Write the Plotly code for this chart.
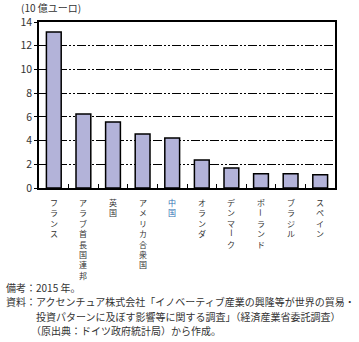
import plotly.graph_objects as go

# Value by country, 2015 (billion euro)
countries = ["フランス", "アラブ首長国連邦", "英国", "アメリカ合衆国", "中国",
             "オランダ", "デンマーク", "ポーランド", "ブラジル", "スペイン"]
values = [13.15, 6.24, 5.56, 4.55, 4.22, 2.36, 1.69, 1.21, 1.21, 1.12]
highlight = "中国"

y_ticks = [0, 2, 4, 6, 8, 10, 12, 14]
unit_label = "(10 億ユーロ)"
notes = [
    "備考：2015 年。",
    "資料：アクセンチュア株式会社「イノベーティブ産業の興隆等が世界の貿易・",
    "　　　投資パターンに及ぼす影響等に関する調査」（経済産業省委託調査）",
    "　　　（原出典：ドイツ政府統計局）から作成。",
]

FONT = "Noto Sans CJK JP"
TEXT = "#333333"
BAR = "#b3b3d9"
LABEL_SIZE = 8
ROW = LABEL_SIZE * 1.3  # plotly line height for <br> breaks

fig = go.Figure(go.Bar(
    x=list(range(len(countries))),
    y=values,
    width=0.5,
    marker=dict(color=BAR, line=dict(color="black", width=1.5)),
))

annotations = []


def vertical_label(i, name, color):
    """Stack a category name top-to-bottom; the long-vowel mark is turned upright."""
    segments, buf = [], ""
    for ch in name:
        if ch == "ー":
            if buf:
                segments.append((buf, False))
                buf = ""
            segments.append((ch, True))
        else:
            buf += ch
    if buf:
        segments.append((buf, False))
    row = 0
    for seg, turned in segments:
        annotations.append(dict(
            x=i, xref="x", y=0, yref="paper", yanchor="top",
            yshift=-(7 + ROW * row + (1 if turned else 0)),
            text="<br>".join(seg), showarrow=False,
            textangle=90 if turned else 0,
            font=dict(family=FONT, size=LABEL_SIZE, color=color),
        ))
        row += len(seg)


for i, name in enumerate(countries):
    vertical_label(i, name, "#2f6fb3" if name == highlight else TEXT)

annotations.append(dict(
    x=0, xref="paper", y=1, yref="paper",
    text=unit_label, showarrow=False, xanchor="left", yanchor="middle",
    xshift=-20, yshift=15,
    font=dict(family=FONT, size=10, color=TEXT),
))

for j, line in enumerate(notes):
    annotations.append(dict(
        x=0, xref="paper", y=0, yref="paper", xanchor="left", yanchor="middle",
        xshift=-35, yshift=-(99 + 14.5 * j), text=line, showarrow=False,
        font=dict(family=FONT, size=10, color=TEXT),
    ))

fig.update_layout(
    width=359, height=342,
    margin=dict(l=39, r=24, t=22, b=154),
    paper_bgcolor="white", plot_bgcolor="white",
    showlegend=False,
    annotations=annotations,
    xaxis=dict(
        range=[-0.5, len(countries) - 0.5],
        tickmode="array", tickvals=[i - 0.5 for i in range(len(countries) + 1)],
        ticktext=[""] * (len(countries) + 1),
        ticks="inside", ticklen=4, tickcolor="black", tickwidth=1,
        showgrid=False, showline=True, linecolor="black", linewidth=1.5,
        mirror=True, zeroline=False, fixedrange=True,
    ),
    yaxis=dict(
        range=[0, 14], tickvals=y_ticks,
        ticks="outside", ticklen=3, tickcolor="black",
        tickfont=dict(family=FONT, size=10.5, color=TEXT),
        showgrid=True, gridcolor="black", gridwidth=1,
        griddash="9px,2px,2px,2px,2px,2px",
        showline=True, linecolor="black", linewidth=1.5, mirror=True,
        zeroline=False, fixedrange=True,
    ),
)

fig.write_html("out.html")
